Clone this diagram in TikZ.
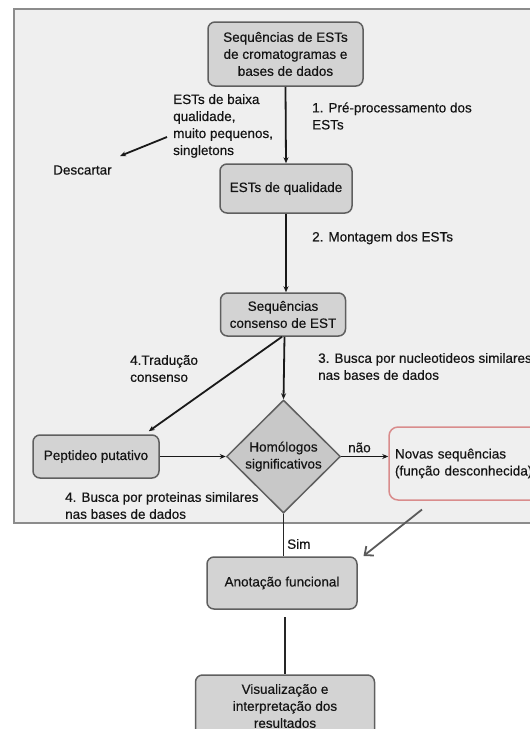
\documentclass[tikz,border=0pt]{standalone}
\usepackage{fontspec}
\setmainfont{Liberation Sans}[FakeBold=0.4]
\usepackage{tikz}
\usetikzlibrary{calc}
\usetikzlibrary{shapes.geometric}
\usetikzlibrary{arrows.meta}
\definecolor{framefill}{HTML}{EFEFEF}
\definecolor{frameline}{HTML}{8C8C8C}
\definecolor{boxfill}{HTML}{D3D3D3}
\definecolor{boxline}{HTML}{5F5F5F}
\definecolor{diamfill}{HTML}{C8C8C8}
\definecolor{newline}{HTML}{D98C8C}
\definecolor{grayarrow}{HTML}{5A5A5A}
\definecolor{txtcol}{HTML}{141414}
\tikzset{
    framebox/.style={fill=framefill, draw=frameline, line width=2pt},
    procbox/.style={rectangle, rounded corners=7pt, draw=boxline, fill=boxfill, line width=1.5pt,
        align=center, inner sep=0pt, text=txtcol, font=\fontsize{13.5}{17}\selectfont},
    decision/.style={diamond, draw=boxline, fill=diamfill, line width=1.5pt, inner sep=0pt},
    newbox/.style={rectangle, rounded corners=9pt, draw=newline, line width=1.5pt,
        align=left, inner ysep=0pt, inner xsep=6pt, text=txtcol, font=\fontsize{13.5}{17}\selectfont},
    txt/.style={inner sep=0pt, anchor=west, align=left, text=txtcol, font=\fontsize{13.5}{17}\selectfont},
    flow/.style={draw=black!90, line width=1.8pt, -{Stealth[length=6pt,width=5pt]}},
    plain/.style={draw=black!85, line width=1.8pt},
    back/.style={draw=grayarrow, line width=1.8pt, -{Straight Barb[length=7pt,width=12pt]}}
}
\newcommand{\txtnode}[4]{\node[txt] (#1) at ( #2 , #3 ) {#4};}

\begin{document}
\begin{tikzpicture}[x=1pt,y=-1pt]
    \useasboundingbox (0,0) rectangle (530,729);
    %background
    \draw[framebox] (14,8.5) rectangle (548,522.5);

    %boxes
    \node[procbox, minimum width=155pt, minimum height=64pt] (seqest) at (285.5,54) {Sequências de ESTs\\de cromatogramas e\\bases de dados};
    \node[procbox, minimum width=132pt, minimum height=49pt] (qual) at (286,188.5) {ESTs de qualidade};
    \node[procbox, minimum width=125pt, minimum height=43pt] (cons) at (283,314.5) {Sequências\\consenso de EST};
    \node[decision, minimum width=114pt, minimum height=113pt] (homol) at (283.5,456.5) {};
    \node[align=center, inner sep=0pt, text=txtcol, font=\fontsize{13.5}{17}\selectfont] (homtxt) at (homol) {Homólogos\\significativos};
    \node[procbox, minimum width=126pt, minimum height=43pt] (pept) at (96,456.5) {Peptideo putativo};
    \node[newbox, minimum width=180pt, minimum height=73pt, text width=168pt] (novas) at (479,463.5) {Novas sequências\\(função desconhecida)};
    \node[procbox, minimum width=150pt, minimum height=52pt] (anot) at (282,583) {Anotação funcional};
    \node[procbox, minimum width=179pt, minimum height=62pt] (visual) at (285,706) {Visualização e\\interpretação dos\\resultados};

    %labels
    \txtnode{baixa}{173}{126}{ESTs de baixa\\qualidade,\\muito pequenos,\\singletons}
    \txtnode{desc}{53}{170}{Descartar}
    \txtnode{prep}{312}{116}{1. Pré-processamento dos\\ESTs}
    \txtnode{mont}{312}{238}{2. Montagem dos ESTs}
    \txtnode{trad}{130}{368.5}{4.Tradução\\consenso}
    \txtnode{nucl}{318}{366.5}{3. Busca por nucleotideos similares\\nas bases de dados}
    \txtnode{nao}{348}{447.5}{não}
    \txtnode{prot}{65}{505.5}{4. Busca por proteinas similares\\nas bases de dados}
    \txtnode{sim}{287}{544}{Sim}

    %free ends
    \coordinate (dscA) at (167,137);
    \coordinate (dscB) at (120,156);
    \coordinate (backA) at (422,509.5);
    \coordinate (backB) at (363.5,556);

    %edges
    \draw[flow] (seqest.south) -- (qual.north);
    \draw[flow] (dscA) -- (dscB);
    \draw[flow] (qual.south) -- (qual.south |- cons.north);
    \draw[flow] ($(cons.south)+(1.5,0)$) -- (homol.north);
    \draw[flow] ($(cons.south)+(-1,0)$) -- ($(pept.north east)+(-11,-3)$);
    \draw[flow] (pept.east) -- (homol.west);
    \draw[flow] (homol.east) -- (homol.east -| novas.west);
    \draw[plain] (homol.south) -- (homol.south |- anot.north);
    \draw[back] (backA) -- (backB);
    \draw[plain] ($(anot.south)+(3,7.5)$) -- (visual.north);
\end{tikzpicture}
\end{document}
